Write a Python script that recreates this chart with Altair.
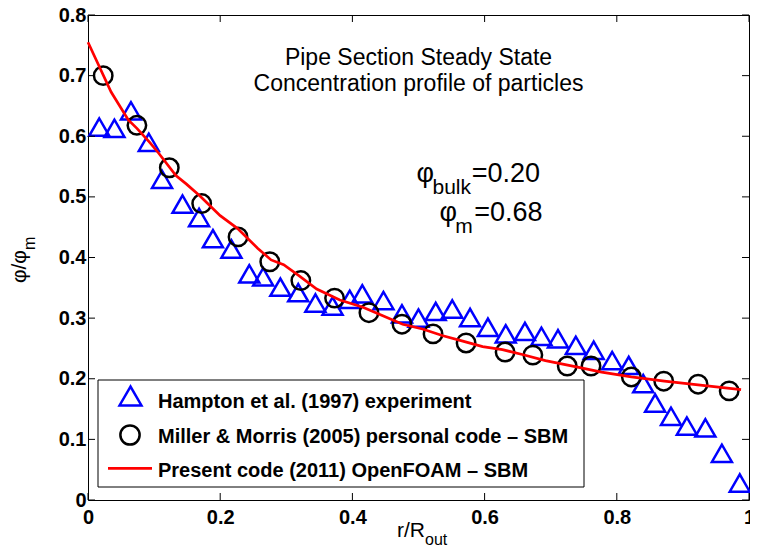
import altair as alt
import pandas as pd

# ---------------- data ----------------
tri_x = [0.017, 0.040, 0.065, 0.092, 0.112, 0.143, 0.168, 0.189, 0.217, 0.244,
         0.265, 0.291, 0.318, 0.344, 0.370, 0.396, 0.415, 0.447, 0.475, 0.500,
         0.526, 0.551, 0.578, 0.605, 0.632, 0.661, 0.686, 0.711, 0.738, 0.765,
         0.793, 0.818, 0.840, 0.858, 0.882, 0.906, 0.934, 0.959, 0.986]
tri_y = [0.615, 0.613, 0.642, 0.590, 0.529, 0.488, 0.466, 0.431, 0.414, 0.373,
         0.368, 0.351, 0.342, 0.325, 0.320, 0.331, 0.340, 0.329, 0.307, 0.300,
         0.311, 0.315, 0.301, 0.285, 0.274, 0.278, 0.270, 0.266, 0.255, 0.247,
         0.230, 0.222, 0.192, 0.160, 0.138, 0.122, 0.119, 0.077, 0.028]

circ_x = [0.023, 0.074, 0.123, 0.172, 0.227, 0.275, 0.322, 0.373, 0.425, 0.475,
          0.522, 0.572, 0.631, 0.673, 0.725, 0.761, 0.822, 0.871, 0.923, 0.970]
circ_y = [0.700, 0.618, 0.548, 0.489, 0.434, 0.393, 0.362, 0.333, 0.309, 0.290,
          0.274, 0.259, 0.244, 0.239, 0.221, 0.221, 0.203, 0.196, 0.191, 0.180]

line_x = [0.000, 0.035, 0.061, 0.074, 0.094, 0.107, 0.133, 0.149, 0.169, 0.200,
          0.226, 0.257, 0.277, 0.296, 0.319, 0.346, 0.381, 0.416, 0.446, 0.476,
          0.506, 0.537, 0.567, 0.597, 0.627, 0.657, 0.692, 0.737, 0.777, 0.822,
          0.872, 0.923, 0.988]
line_y = [0.755, 0.673, 0.627, 0.613, 0.589, 0.572, 0.535, 0.521, 0.502, 0.469,
          0.448, 0.415, 0.396, 0.388, 0.370, 0.348, 0.330, 0.318, 0.304, 0.290,
          0.282, 0.271, 0.262, 0.253, 0.248, 0.240, 0.230, 0.220, 0.211, 0.203,
          0.196, 0.190, 0.182]

x_ticks = [0, 0.2, 0.4, 0.6, 0.8, 1]
y_ticks = [0, 0.1, 0.2, 0.3, 0.4, 0.5, 0.6, 0.7, 0.8]

legend_labels = ["Hampton et al. (1997) experiment",
                 "Miller & Morris (2005) personal code \u2013 SBM",
                 "Present code (2011) OpenFOAM \u2013 SBM"]
title_lines = ["Pipe Section Steady State", "Concentration profile of particles"]
phi_bulk_value = "=0.20"
phi_m_value = "=0.68"

# ---------------- styling ----------------
W, H = 661, 485
FONT = "Liberation Sans, Arial, Helvetica, sans-serif"
BLUE, RED, BLACK = "#0000ff", "#ff0000", "#000000"

xs = alt.Scale(domain=[0, 1], nice=False, zero=False)
ys = alt.Scale(domain=[0, 0.8], nice=False, zero=False)

xaxis = alt.Axis(values=x_ticks, format="~g", title=None, grid=False, domain=False,
                 ticks=False, labelFont=FONT, labelFontSize=20,
                 labelFontWeight="bold", labelColor=BLACK, labelPadding=7,
                 labelFlush=False, labelOverlap=False)
yaxis = alt.Axis(values=y_ticks, format="~g", title=None, grid=False, domain=False,
                 ticks=False, labelFont=FONT, labelFontSize=20,
                 labelFontWeight="bold", labelColor=BLACK, labelPadding=2,
                 labelFlush=False, labelOverlap=False)

tri_df = pd.DataFrame({"x": tri_x, "y": tri_y})
circ_df = pd.DataFrame({"x": circ_x, "y": circ_y})
line_df = pd.DataFrame({"x": line_x, "y": line_y})
xt_df = pd.DataFrame({"x": x_ticks})
yt_df = pd.DataFrame({"y": y_ticks})
one = pd.DataFrame({"k": [0]})

X = alt.X("x:Q", scale=xs, axis=xaxis)
Y = alt.Y("y:Q", scale=ys, axis=yaxis)

tri = alt.Chart(tri_df).mark_point(shape="triangle-up", filled=False, color=BLUE,
                                   size=400, strokeWidth=2.5, opacity=1).encode(x=X, y=Y)
circ = alt.Chart(circ_df).mark_point(shape="circle", filled=False, color=BLACK,
                                     size=340, strokeWidth=2.5, opacity=1).encode(x=X, y=Y)
line = alt.Chart(line_df).mark_line(color=RED, strokeWidth=2.7).encode(x=X, y=Y)

# inward ticks on all four sides
tk = dict(color=BLACK, strokeWidth=1)
t_bottom = alt.Chart(xt_df).mark_rule(**tk).encode(
    x=X, y=alt.value(H), y2=alt.value(H - 7))
t_top = alt.Chart(xt_df).mark_rule(**tk).encode(
    x=X, y=alt.value(0), y2=alt.value(7))
t_left = alt.Chart(yt_df).mark_rule(**tk).encode(
    y=Y, x=alt.value(0), x2=alt.value(7))
t_right = alt.Chart(yt_df).mark_rule(**tk).encode(
    y=Y, x=alt.value(W), x2=alt.value(W - 7))

def dtext(txt, x, y, size, align="center", weight="normal"):
    return alt.Chart(one).mark_text(text=txt, font=FONT, fontSize=size, align=align,
                                    baseline="alphabetic", fontWeight=weight,
                                    color=BLACK).encode(
        x=alt.datum(x, scale=xs), y=alt.datum(y, scale=ys))

def ptext(txt, x, y, size, align="left", weight="normal", angle=0):
    kw = dict(text=txt, font=FONT, fontSize=size, align=align, baseline="alphabetic",
              fontWeight=weight, color=BLACK)
    if angle:
        kw["angle"] = angle
    return alt.Chart(one).mark_text(**kw).encode(x=alt.value(x), y=alt.value(y))

# annotations inside the plot
ann = [
    dtext(title_lines[0], 0.5, 0.718, 23),
    dtext(title_lines[1], 0.5, 0.675, 23),
    dtext("\u03c6", 0.497, 0.524, 27, align="left"),
    dtext("bulk", 0.5211, 0.5045, 21, align="left"),
    dtext(phi_bulk_value, 0.5805, 0.524, 27, align="left"),
    dtext("\u03c6", 0.5316, 0.460, 27, align="left"),
    dtext("m", 0.5557, 0.441, 21, align="left"),
    dtext(phi_m_value, 0.5843, 0.460, 27, align="left"),
]

# axis titles with subscripts
titles = [
    ptext("r/R", 337, 522, 21, align="right"),
    ptext("out", 337, 530, 16, align="left"),
    ptext("\u03c6/\u03c6", -62, 235, 21, align="right", angle=270),
    ptext("m", -53, 235, 16, align="left", angle=270),
]

# legend
leg_box = alt.Chart(one).mark_rect(fill="white", stroke=BLACK, strokeWidth=1).encode(
    x=alt.value(10), x2=alt.value(496), y=alt.value(365), y2=alt.value(472))
leg_tri = alt.Chart(one).mark_point(shape="triangle-up", filled=False, color=BLUE,
                                    size=480, strokeWidth=2.5, opacity=1).encode(
    x=alt.value(42.5), y=alt.value(381))
leg_circ = alt.Chart(one).mark_point(shape="circle", filled=False, color=BLACK,
                                     size=370, strokeWidth=2.5, opacity=1).encode(
    x=alt.value(42), y=alt.value(420))
leg_line = alt.Chart(one).mark_rule(color=RED, strokeWidth=2.7).encode(
    x=alt.value(20), x2=alt.value(64), y=alt.value(453.3))
leg_txt = [
    ptext(legend_labels[0], 70, 393.3, 20, weight="bold"),
    ptext(legend_labels[1], 70, 427.7, 20, weight="bold"),
    ptext(legend_labels[2], 70, 461.7, 20, weight="bold"),
]

chart = alt.layer(
    tri, circ, line, t_bottom, t_top, t_left, t_right,
    *ann, *titles, leg_box, leg_tri, leg_circ, leg_line, *leg_txt
).properties(
    width=W, height=H, autosize="none",
    padding={"left": 80, "top": 7, "right": 1, "bottom": 47},
    background="white",
).configure_view(stroke=BLACK, strokeWidth=1)

chart.save("out.html", embed_options={"renderer": "svg", "actions": False})
